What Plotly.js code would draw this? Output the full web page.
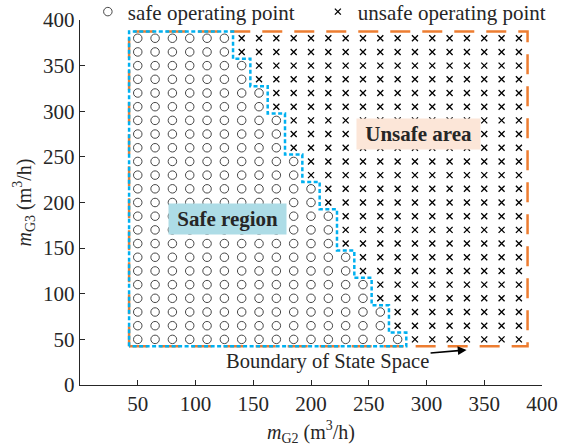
<!DOCTYPE html>
<html>
<head>
<meta charset="utf-8">
<script src="https://cdn.plot.ly/plotly-3.0.1.min.js"></script>
<style>html,body{margin:0;padding:0;background:#fff;}#chart{width:577px;height:446px;}</style>
</head>
<body>
<div id="chart"></div>
<script>
// Grid of operating points (m_G2, m_G3)
const gridX = [50, 65, 80, 95, 110, 125, 140, 155, 170, 185, 200, 215, 230, 245, 260, 275, 290, 305, 320, 335, 350, 365, 380];
const gridY = [50, 65, 80, 95, 110, 125, 140, 155, 170, 185, 200, 215, 230, 245, 260, 275, 290, 305, 320, 335, 350, 365, 380];
// Largest safe m_G2 for each row of gridY
const safeLimit = [275, 260, 260, 245, 245, 230, 230, 215, 215, 215, 200, 200, 185, 185, 170, 170, 170, 155, 155, 140, 140, 125, 125];

// Boundary of the safe region (staircase)
const safeBoundaryX = [42.5, 42.5, 132.5, 132.5, 147.5, 147.5, 162.5, 162.5, 177.5, 177.5, 192.5, 192.5, 207.5, 207.5, 222.5, 222.5, 237.5, 237.5, 252.5, 252.5, 267.5, 267.5, 282.5, 282.5, 42.5];
const safeBoundaryY = [42.5, 387.5, 387.5, 357.5, 357.5, 327.5, 327.5, 297.5, 297.5, 252.5, 252.5, 222.5, 222.5, 192.5, 192.5, 147.5, 147.5, 117.5, 117.5, 87.5, 87.5, 57.5, 57.5, 42.5, 42.5];
// Boundary of the state space
const stateBoundaryX = [42.5, 42.5, 387.5, 387.5, 42.5];
const stateBoundaryY = [42.5, 387.5, 387.5, 42.5, 42.5];

const xTicks = [50, 100, 150, 200, 250, 300, 350, 400];
const yTicks = [0, 50, 100, 150, 200, 250, 300, 350, 400];

const safeX = [], safeY = [], unsafeX = [], unsafeY = [];
gridY.forEach((y, j) => {
  gridX.forEach(x => {
    if (x <= safeLimit[j]) { safeX.push(x); safeY.push(y); }
    else { unsafeX.push(x); unsafeY.push(y); }
  });
});

const FONT = 'Liberation Serif, Times New Roman, serif';
const TXT = '#262626';

const traces = [
  {x: stateBoundaryX, y: stateBoundaryY, mode: 'lines', showlegend: false, hoverinfo: 'skip',
   line: {color: '#ED7D31', width: 2.5, dash: '20px,12px'}},
  {x: safeBoundaryX, y: safeBoundaryY, mode: 'lines', showlegend: false, hoverinfo: 'skip',
   line: {color: '#00B0F0', width: 2.5, dash: '4px,2.5px'}},
  {x: safeX, y: safeY, mode: 'markers', name: 'safe operating point',
   marker: {symbol: 'circle-open', size: 8.5, color: '#333', line: {width: 0.9}}},
  {x: unsafeX, y: unsafeY, mode: 'markers', name: 'unsafe operating point',
   marker: {symbol: 'x-thin-open', size: 6, color: '#000', line: {width: 1.3}}}
];

const layout = {
  width: 577, height: 446,
  margin: {l: 79.5, r: 34.7, t: 20, b: 61, autoexpand: false},
  paper_bgcolor: '#fff', plot_bgcolor: '#fff',
  font: {family: FONT, size: 21, color: TXT},
  showlegend: true,
  legend: {orientation: 'h', x: 0.017, xanchor: 'left', y: 1.022, yanchor: 'middle',
           font: {family: FONT, size: 21, color: TXT}, bgcolor: 'rgba(0,0,0,0)',
           itemwidth: 30, tracegroupgap: 0, entrywidth: 185, entrywidthmode: 'pixels'},
  xaxis: {range: [0, 400], tickvals: xTicks, ticktext: xTicks.map(String), showgrid: false, zeroline: false,
          showline: true, linecolor: '#262626', linewidth: 1.2, ticks: 'inside', ticklen: 5, tickcolor: '#262626',
          tickfont: {family: FONT, size: 21, color: TXT},
          title: {text: '<i>m</i><sub>G2</sub> (m<sup>3</sup>/h)', font: {family: FONT, size: 20, color: TXT}, standoff: 9}},
  yaxis: {range: [0, 400], tickvals: yTicks, ticktext: yTicks.map(String), showgrid: false, zeroline: false,
          showline: true, linecolor: '#262626', linewidth: 1.2, ticks: 'inside', ticklen: 5, tickcolor: '#262626',
          tickfont: {family: FONT, size: 21, color: TXT},
          title: {text: '<i>m</i><sub>G3</sub> (m<sup>3</sup>/h)', font: {family: FONT, size: 20, color: TXT}, standoff: 6}},
  annotations: [
    {x: 127.5, y: 182, xref: 'x', yref: 'y', text: '<b>&nbsp;Safe region&nbsp;</b>', showarrow: false,
     font: {family: FONT, size: 21, color: TXT}, bgcolor: '#ADDCE6', borderpad: 3},
    {x: 293, y: 275, xref: 'x', yref: 'y', text: '<b>&nbsp;Unsafe area&nbsp;</b>', showarrow: false,
     font: {family: FONT, size: 21, color: TXT}, bgcolor: '#FCE6D8', borderpad: 3},
    {x: 334.7, y: 38.4, xref: 'x', yref: 'y', text: 'Boundary of State Space', showarrow: true,
     ax: -139, ay: 12, arrowhead: 2, arrowsize: 1.1, arrowwidth: 1.6, arrowcolor: '#000',
     font: {family: FONT, size: 20.5, color: TXT}, bgcolor: 'rgba(0,0,0,0)'}
  ]
};

Plotly.newPlot('chart', traces, layout, {displayModeBar: false, staticPlot: true});
</script>
</body>
</html>
